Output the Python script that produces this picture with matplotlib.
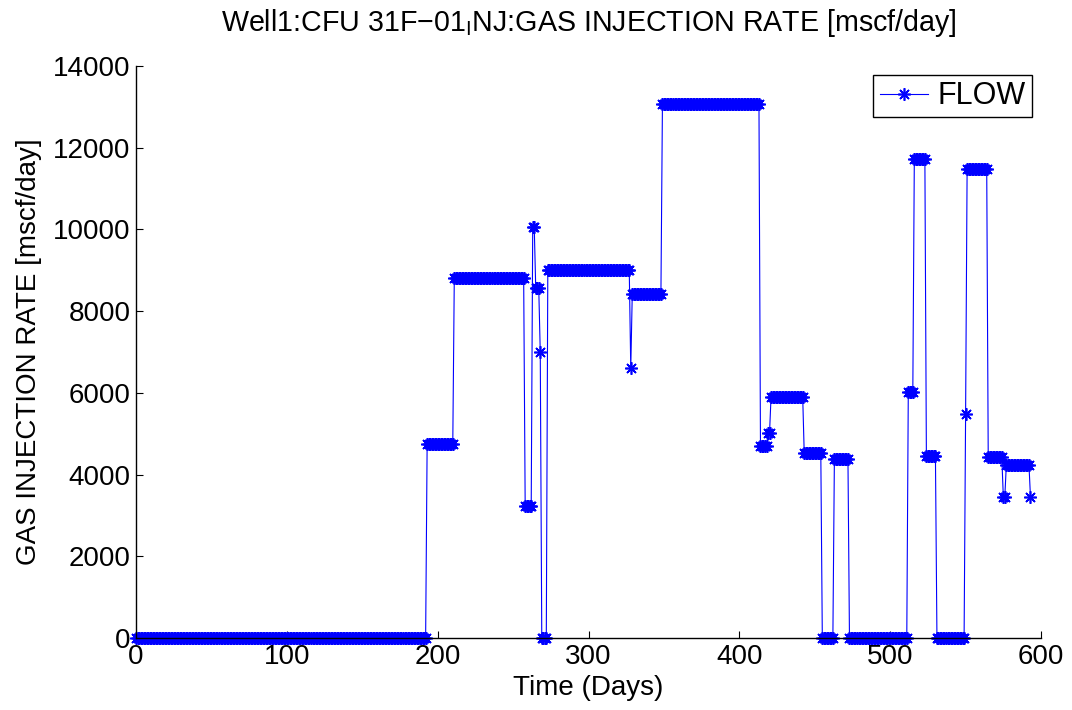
import numpy as np
import matplotlib
matplotlib.use("Agg")
from matplotlib import pyplot as plt

# daily gas injection rate, stored as constant-rate periods
seg_start = [0, 193, 211, 258, 263, 265, 268, 269, 273, 328, 329, 349,
             414, 419, 421, 443, 455, 463, 473, 512, 516, 524, 531, 550,
             551, 565, 575, 577, 593]
seg_rate = [0, 4750, 8820, 3230, 10070, 8560, 6990, 0, 9000, 6600, 8430, 13060,
            4700, 5010, 5900, 4520, 0, 4370, 0, 6020, 11730, 4450, 0, 5490,
            11480, 4420, 3460, 4240, 3460]
last_day = 593

plt.rcParams['font.family'] = ['Liberation Sans', 'DejaVu Sans']
plt.rcParams['mathtext.fontset'] = 'custom'
plt.rcParams['mathtext.rm'] = 'Liberation Sans'

lengths = np.diff(seg_start + [last_day + 1])
days = np.arange(last_day + 1)
rate = np.repeat(seg_rate, lengths)

fig = plt.figure(figsize=(10.72, 7.10), dpi=100)
ax = fig.add_axes([0.1269, 0.1014, 0.8442, 0.8056])

ax.plot(days, rate, color='#0000ff', lw=0.8, marker=(8, 2, 0), ms=9,
        mew=1.2, label='FLOW', clip_on=False)

ax.set_xlim(0, 600)
ax.set_ylim(0, 14000)
ax.set_xticks(np.arange(0, 601, 100))
ax.set_yticks(np.arange(0, 14001, 2000))
ax.tick_params(direction='in', length=5, labelsize=20, pad=4)
for s in ['top', 'right']:
    ax.spines[s].set_visible(False)
for s in ['left', 'bottom']:
    ax.spines[s].set_linewidth(1)

ax.set_xlabel('Time (Days)', fontsize=20, labelpad=4)
ax.set_ylabel('GAS INJECTION RATE [mscf/day]', fontsize=20, labelpad=8)
ax.set_title('Well1:CFU 31F\u221201$_\\mathregular{I}$NJ:GAS INJECTION RATE [mscf/day]',
             fontsize=20.6, pad=25)

leg = ax.legend(loc='upper right', fontsize=22, fancybox=False, framealpha=1,
                edgecolor='black', borderaxespad=0.3, handlelength=1.6,
                borderpad=0.2, handletextpad=0.3)
leg.get_frame().set_linewidth(1)

fig.savefig('out.png', dpi=100)
